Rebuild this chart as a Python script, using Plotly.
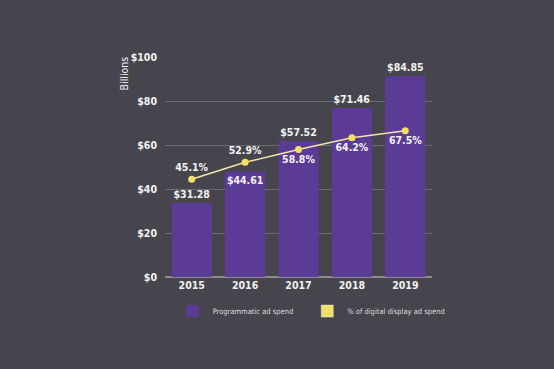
import plotly.graph_objects as go

years = ["2015", "2016", "2017", "2018", "2019"]
spend = [31.28, 44.61, 57.52, 71.46, 84.85]
share = [45.1, 52.9, 58.8, 64.2, 67.5]
spend_labels = ["$31.28", "$44.61", "$57.52", "$71.46", "$84.85"]
share_labels = ["45.1%", "52.9%", "58.8%", "64.2%", "67.5%"]
y_ticks = [0, 20, 40, 60, 80, 100]
y_tick_labels = ["$0", "$20", "$40", "$60", "$80", "$100"]

BG = "#46454d"
PURPLE = "#5c3b97"
YELLOW = "#f3df63"
LINE = "#efe6a6"
TXT = "#f2f2f2"
FONT = "DejaVu Sans Condensed, sans-serif"
LBL = 10.5

fig = go.Figure()
fig.add_trace(go.Bar(
    x=years, y=[None] * len(years), name="Programmatic ad spend",
    marker=dict(color=PURPLE), showlegend=False, hoverinfo="skip",
))
fig.add_trace(go.Bar(
    x=years, y=spend, name="Programmatic ad spend",
    marker=dict(color=PURPLE, line=dict(width=0)),
    text=spend_labels,
    textposition=["outside", "inside", "outside", "outside", "outside"],
    insidetextanchor="end",
    textangle=0,
    constraintext="none",
    cliponaxis=False,
    textfont=dict(color=TXT, size=LBL, family=FONT, weight="bold"),
    yaxis="y2",
))
fig.add_trace(go.Bar(
    x=[None], y=[None], name="% of digital display ad spend",
    marker=dict(color=YELLOW), yaxis="y2",
))
fig.add_trace(go.Scatter(
    x=years, y=share, mode="lines+markers+text",
    line=dict(color=LINE, width=1.5),
    marker=dict(color=YELLOW, size=7),
    text=share_labels,
    textposition=["top center", "top center", "bottom center", "bottom center", "bottom center"],
    textfont=dict(color=TXT, size=LBL, family=FONT, weight="bold"),
    showlegend=False,
    cliponaxis=False,
    yaxis="y3",
))

fig.update_layout(
    width=554, height=369,
    paper_bgcolor=BG, plot_bgcolor=BG,
    margin=dict(l=165, r=122, t=57, b=92, autoexpand=False),
    barmode="overlay",
    bargap=0.25,
    font=dict(family=FONT, color=TXT, size=12),
    xaxis=dict(
        showgrid=False, zeroline=False, showline=False,
        tickfont=dict(size=10.5, color=TXT, family=FONT, weight="bold"),
        ticks="", ticklen=0,
    ),
    yaxis=dict(
        range=[0, 100], tickvals=y_ticks, ticktext=y_tick_labels,
        showgrid=True, gridcolor="#6b6a71", gridwidth=1,
        zeroline=True, zerolinecolor="#8c8b92", zerolinewidth=1.5,
        tickfont=dict(size=10.5, color=TXT, family=FONT, weight="bold"),
        ticks="", ticklabelstandoff=7,
    ),
    yaxis2=dict(range=[0, 93], overlaying="y", visible=False),
    yaxis3=dict(range=[0, 101.5], overlaying="y", visible=False),
    legend=dict(
        orientation="h", x=-0.005, xanchor="left",
        y=-0.155, yanchor="middle",
        font=dict(size=7.5, color="#dcdcdc", family=FONT),
        bgcolor="rgba(0,0,0,0)", itemwidth=30, indentation=9,
    ),
    annotations=[dict(
        text="Billions", textangle=-90, xref="paper", yref="paper",
        x=-0.155, y=1.01, xanchor="center", yanchor="top", showarrow=False,
        font=dict(size=10.5, color=TXT, family=FONT),
    )],
)

fig.write_html(
    "out.html",
    config={"displayModeBar": False},
    post_script="document.body.style.margin='0';document.body.style.background='#46454d';",
)
